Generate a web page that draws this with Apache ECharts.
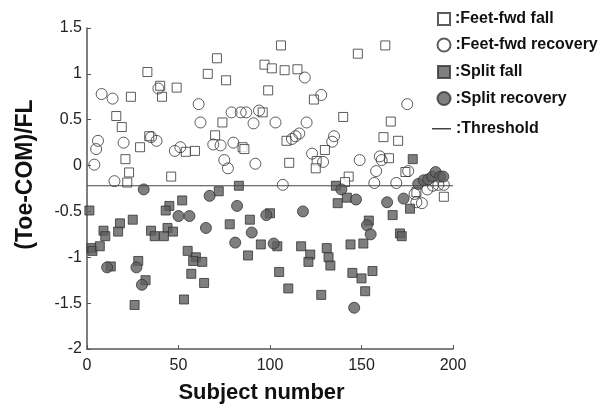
<!DOCTYPE html>
<html>
<head>
<meta charset="utf-8">
<script src="https://cdn.jsdelivr.net/npm/echarts@6/dist/echarts.min.js"></script>
<style>
  html, body { margin: 0; padding: 0; background: #fff; }
  #chart { width: 610px; height: 409px; }
</style>
</head>
<body>
<div id="chart"></div>
<script>
// values: [subject number, (Toe-COM)/FL]
const feetFwdFall = [
  [33, 1.02], [40, 0.87], [41, 0.75], [49, 0.85], [24, 0.75], [66, 1.0], [16, 0.54], [19, 0.42],
  [34, 0.32], [29, 0.2], [21, 0.07], [23, -0.075], [22, -0.185], [46, -0.12], [54, 0.15], [59, 0.16],
  [106, 1.31], [71, 1.17], [76, 0.93], [97, 1.1], [101, 1.06], [108, 1.04], [115, 1.05], [99, 0.82],
  [124, 0.72], [96, 0.58], [74, 0.47], [70, 0.33], [85, 0.2], [86, 0.18], [109, 0.27], [110.5, 0.03],
  [130, 0.17], [125.5, 0.05], [125, -0.03], [163, 1.31], [148, 1.22], [140, 0.53], [166, 0.48],
  [162, 0.31], [170, 0.27], [165, 0.08], [174, -0.07], [143, -0.12], [141, -0.18], [195, -0.34],
  [180, -0.29]
];
const feetFwdRecovery = [
  [8, 0.78], [14, 0.73], [39, 0.84], [61, 0.67], [62, 0.47], [6, 0.27], [5, 0.18], [20, 0.25],
  [35, 0.31], [38, 0.27], [4, 0.01], [15, -0.17], [48, 0.16], [51, 0.2], [119, 0.96], [128, 0.77],
  [79, 0.58], [84, 0.58], [87, 0.58], [94, 0.6], [91, 0.46], [103, 0.47], [120, 0.47], [69, 0.23],
  [73, 0.22], [80, 0.25], [75, 0.06], [77, -0.03], [92, 0.02], [112, 0.29], [114, 0.32], [116, 0.35],
  [123, 0.13], [129, 0.04], [107, -0.21], [175, 0.67], [135, 0.32], [134, 0.26], [149, 0.06],
  [160, 0.1], [161, 0.06], [158, -0.06], [175.5, -0.06], [157, -0.19], [169, -0.19],
  [179, -0.31], [180, -0.4], [183, -0.41], [186, -0.26], [189, -0.22], [192, -0.21], [195, -0.21]
];
const splitFall = [
  [83, -0.22], [72, -0.28], [178, 0.07], [136, -0.22], [142, -0.35], [137, -0.41], [167, -0.54],
  [176.5, -0.47], [154, -0.6], [171, -0.74], [172, -0.77], [144, -0.86], [151, -0.85], [131, -0.9],
  [132, -1.0], [133, -1.09], [145, -1.17], [150, -1.23], [156, -1.15], [152, -1.37], [128, -1.41],
  [1.3, -0.49], [45, -0.44], [43, -0.49], [52, -0.38], [25, -0.59], [18, -0.63], [17, -0.72],
  [9, -0.71], [10, -0.77], [35, -0.71], [37, -0.77], [44, -0.68], [42, -0.77], [47, -0.72],
  [2.4, -0.9], [3, -0.93], [7, -0.88], [28, -1.04], [13, -1.1], [32, -1.25], [26, -1.52],
  [55, -0.93], [59.5, -1.0], [58, -1.04], [63, -1.05], [57, -1.18], [64, -1.28], [53, -1.46],
  [100, -0.52], [89, -0.59], [78, -0.64], [95, -0.86], [104, -0.88], [117, -0.88], [122, -0.97],
  [121, -1.05], [88, -0.98], [105, -1.16], [110, -1.34]
];
const splitRecovery = [
  [31, -0.26], [50, -0.55], [56, -0.55], [65, -0.68], [11, -1.11], [27, -1.11], [30, -1.3],
  [67, -0.33], [82, -0.44], [98, -0.54], [118, -0.5], [90, -0.73], [81, -0.84], [102, -0.85],
  [139, -0.26], [147, -0.37], [164, -0.4], [173, -0.36], [153, -0.65], [155, -0.75], [146, -1.55],
  [181, -0.2], [184, -0.16], [186.5, -0.15], [188.7, -0.12], [190.5, -0.07], [193, -0.12], [194.7, -0.12]
];
const thresholdX = [0, 200];
const thresholdValue = -0.22;

const font = 'Liberation Sans, Arial, sans-serif';
const edge = '#333';
const fill = '#5f5f5f';

// one legend per row so every row sits where it does in the figure
function legendRow(name, top, w, h, extra) {
  return Object.assign({
    data: [name],
    orient: 'vertical',
    left: 443 - w / 2,
    top: top - h / 2,
    itemWidth: w,
    itemHeight: h,
    selectedMode: false,
    padding: 0,
    textStyle: { fontFamily: font, fontSize: 16, fontWeight: 'bold', color: '#111', lineHeight: h }
  }, extra || {});
}

const chart = echarts.init(document.getElementById('chart'));
chart.setOption({
  animation: false,
  grid: { left: 87, right: 157, top: 28, bottom: 54 },
  legend: [
    legendRow(':Feet-fwd fall', 17, 12, 12),
    legendRow(':Feet-fwd recovery', 43.5, 13, 13),
    legendRow(':Split fall', 70, 12, 12),
    legendRow(':Split recovery', 97, 13, 13),
    legendRow(':Threshold', 121.5, 19, 1.5, { icon: 'rect', left: 432 })
  ],
  xAxis: {
    type: 'value',
    min: 0, max: 200, interval: 50,
    name: 'Subject number',
    nameLocation: 'middle',
    nameGap: 33,
    nameTextStyle: { fontFamily: font, fontSize: 22, fontWeight: 'bold', color: '#111', padding: [0, 17, 0, 0] },
    splitLine: { show: false },
    axisLine: { onZero: false, lineStyle: { color: '#555', width: 1.5 } },
    axisTick: { inside: true, length: 4, lineStyle: { color: '#555' } },
    axisLabel: { fontFamily: font, fontSize: 16, color: '#222', margin: 9 }
  },
  yAxis: {
    type: 'value',
    min: -2, max: 1.5, interval: 0.5,
    name: '(Toe-COM)/FL',
    nameLocation: 'middle',
    nameGap: 50,
    nameTextStyle: { fontFamily: font, fontSize: 23, fontWeight: 'bold', color: '#111', padding: [0, 0, 0, 28] },
    splitLine: { show: false },
    axisLine: { show: true, onZero: false, lineStyle: { color: '#555', width: 1.5 } },
    axisTick: { show: true, inside: true, length: 4, lineStyle: { color: '#555' } },
    axisLabel: { fontFamily: font, fontSize: 16, color: '#222', margin: 5 }
  },
  series: [
    {
      name: ':Feet-fwd fall', type: 'scatter', symbol: 'rect', symbolSize: 9,
      itemStyle: { color: '#fff', borderColor: edge, borderWidth: 1 },
      data: feetFwdFall
    },
    {
      name: ':Feet-fwd recovery', type: 'scatter', symbol: 'circle', symbolSize: 11,
      itemStyle: { color: 'rgba(255,255,255,0)', borderColor: edge, borderWidth: 1 },
      data: feetFwdRecovery
    },
    {
      name: ':Split fall', type: 'scatter', symbol: 'rect', symbolSize: 9,
      itemStyle: { color: fill, borderColor: edge, borderWidth: 1 },
      data: splitFall
    },
    {
      name: ':Split recovery', type: 'scatter', symbol: 'circle', symbolSize: 11,
      itemStyle: { color: fill, borderColor: edge, borderWidth: 1 },
      data: splitRecovery
    },
    {
      name: ':Threshold', type: 'line', symbol: 'none',
      lineStyle: { color: '#444', width: 1.2 },
      itemStyle: { color: '#444' },
      data: thresholdX.map(x => [x, thresholdValue])
    }
  ]
});
</script>
</body>
</html>
